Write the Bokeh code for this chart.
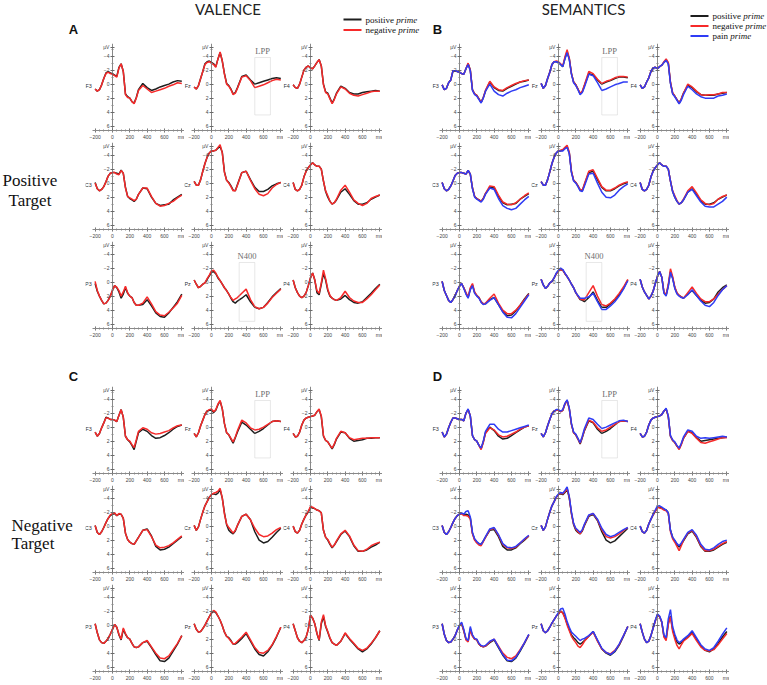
from bokeh.plotting import figure
from bokeh.models import Range1d, LinearAxis, FixedTicker, BoxAnnotation, Spacer
from bokeh.layouts import row, column
from bokeh.embed import file_html
from bokeh.resources import INLINE
from bokeh.core.properties import value

# ---------------- data (µV, negative up) ----------------
TIMES = [-200, -175, -150, -125, -100, -75, -50, -25, 0, 25, 50, 75, 100, 125, 150, 175, 200,
         225, 250, 275, 300, 350, 400, 450, 500, 550, 600, 650, 700, 750, 800]
X_TICKS = [-200, 0, 200, 400, 600, 800]
Y_TICKS = [-4, -2, 0, 2, 4, 6]
CHANNEL_ROWS = [["F3", "Fz", "F4"], ["C3", "Cz", "C4"], ["P3", "Pz", "P4"]]
VALENCE_LABELS = ["positive", "negative"]
SEMANTIC_LABELS = ["positive", "negative", "pain"]

# Panel A  (valence, positive target)
A_F3_pos = [0.7,1.0,0.8,0.1,-0.8,-1.6,-1.8,-1.6,-1.5,-1.3,-1.1,-2.4,-2.9,-1.8,1.4,1.8,2.0,2.5,2.7,1.9,0.8,-0.1,0.5,0.9,0.7,0.4,0.2,0.0,-0.3,-0.5,-0.4]
A_F3_neg = [0.7,1.0,0.8,0.1,-0.8,-1.5,-1.7,-1.5,-1.4,-1.2,-1.0,-2.3,-2.9,-1.8,1.5,1.9,2.0,2.5,2.8,2.0,0.9,0.2,0.7,1.2,1.0,0.8,0.6,0.3,0.1,-0.2,-0.1]
A_Fz_pos = [0.4,0.7,0.2,-0.8,-1.8,-2.9,-3.2,-3.3,-3.1,-2.9,-2.5,-3.6,-4.5,-3.3,-1.5,-0.1,0.2,0.7,1.4,1.2,0.5,-1.1,-1.3,-0.6,0.0,-0.2,-0.4,-0.6,-0.8,-0.9,-0.8]
A_Fz_neg = [0.4,0.7,0.2,-0.8,-1.8,-2.8,-3.1,-3.2,-3.0,-2.8,-2.4,-3.6,-4.6,-3.3,-1.4,0.0,0.3,0.8,1.5,1.3,0.6,-1.0,-1.2,-0.5,0.5,0.3,0.1,-0.2,-0.5,-0.7,-0.6]
A_F4_pos = [0.1,0.5,0.6,0.0,-1.0,-2.0,-2.4,-2.6,-2.3,-2.2,-2.6,-3.1,-3.5,-2.6,0.0,1.1,1.3,2.0,2.7,2.1,1.3,0.3,0.6,1.2,1.4,1.4,1.2,1.1,1.0,0.9,1.0]
A_F4_neg = [0.1,0.5,0.6,0.0,-1.0,-2.0,-2.4,-2.6,-2.3,-2.2,-2.6,-3.1,-3.5,-2.6,0.1,1.2,1.4,2.1,2.8,2.2,1.4,0.4,0.7,1.3,1.6,1.7,1.5,1.3,1.1,1.0,1.0]
A_C3_pos = [-0.1,0.8,1.1,0.9,0.5,-0.2,-1.0,-1.4,-1.5,-1.5,-1.4,-1.3,-1.85,-1.4,0.6,1.9,2.2,2.4,2.6,2.3,1.6,0.7,0.8,2.0,2.9,3.2,3.1,3.0,2.4,2.0,1.6]
A_C3_neg = [0.0,0.8,1.1,0.9,0.5,-0.2,-1.0,-1.4,-1.5,-1.5,-1.3,-1.2,-1.8,-1.4,0.7,1.9,2.1,2.3,2.5,2.3,1.6,0.7,0.7,1.9,2.9,3.3,3.2,2.9,2.6,2.1,1.7]
A_Cz_pos = [-0.25,0.3,0.3,-0.5,-1.7,-2.8,-3.7,-4.3,-4.6,-4.6,-4.7,-5.0,-5.2,-4.4,-1.6,-0.4,-0.1,0.4,1.0,1.1,0.2,-1.5,-1.7,-0.5,0.6,1.2,1.2,0.9,0.4,0.1,-0.1]
A_Cz_neg = [-0.25,0.3,0.3,-0.5,-1.7,-2.8,-3.7,-4.3,-4.6,-4.6,-4.7,-5.1,-5.5,-4.3,-1.5,-0.4,0.0,0.5,1.1,1.1,0.3,-1.5,-1.7,-0.4,0.8,1.6,1.8,1.5,0.7,0.2,-0.1]
A_C4_pos = [-0.1,0.9,1.1,0.9,0.3,-0.9,-1.7,-2.2,-2.6,-2.9,-2.6,-2.4,-2.4,-2.0,-0.3,1.2,2.0,2.6,3.0,2.8,2.4,1.3,0.8,1.6,2.5,3.0,3.0,2.8,2.3,2.0,1.7]
A_C4_neg = [-0.1,0.9,1.1,0.9,0.3,-0.9,-1.7,-2.2,-2.6,-2.9,-2.6,-2.4,-2.4,-2.0,-0.3,1.1,1.8,2.6,3.0,2.8,2.3,1.0,0.3,1.3,2.4,2.9,3.2,2.9,2.2,1.9,1.7]
A_P3_pos = [0.2,1.3,2.0,2.6,3.1,3.0,2.6,2.0,1.2,0.5,0.8,1.4,2.3,1.7,0.8,1.6,2.0,2.2,2.9,3.3,3.3,3.2,2.5,3.4,4.4,4.9,5.0,4.4,3.6,2.8,1.7]
A_P3_neg = [-0.1,1.2,2.0,2.6,3.1,3.0,2.6,2.0,1.2,0.5,0.7,1.2,2.0,1.4,0.6,1.5,2.0,2.2,2.9,3.3,3.3,3.0,2.1,3.1,4.2,4.7,4.8,4.3,3.7,3.0,1.9]
A_Pz_pos = [-0.3,0.3,0.8,0.6,0.3,0.1,-0.4,-0.9,-1.4,-1.5,-1.2,-0.6,-0.2,0.3,0.8,1.2,1.7,2.3,2.8,3.0,2.7,2.3,1.8,2.8,3.6,3.8,3.6,2.9,2.1,1.5,0.9]
A_Pz_neg = [-0.3,0.3,0.8,0.6,0.3,0.1,-0.5,-1.0,-1.6,-1.7,-1.3,-0.7,-0.2,0.3,0.8,1.2,1.7,2.2,2.6,2.4,2.2,1.6,1.0,2.5,3.5,3.8,3.6,3.0,2.2,1.6,1.0]
A_P4_pos = [-0.3,0.8,1.5,2.0,2.2,2.0,1.5,0.5,-0.6,-1.3,-0.3,1.5,1.8,0.3,-1.2,-0.3,1.2,2.0,2.3,2.5,2.6,2.4,1.9,2.5,2.9,3.0,2.8,2.2,1.6,0.9,0.3]
A_P4_neg = [-0.3,0.8,1.5,2.0,2.2,2.0,1.5,0.5,-0.6,-1.3,-0.3,1.2,1.6,0.1,-1.7,-0.5,1.0,1.9,2.3,2.5,2.6,2.2,1.3,2.2,2.7,2.9,2.9,2.4,1.8,1.1,0.4]

# Panel B  (semantics, positive target)
B_F3_pos = [0.1,0.8,0.6,-0.2,-0.6,-1.9,-1.9,-1.8,-1.7,-1.5,-1.4,-2.2,-2.9,-2.0,0.8,1.4,1.6,2.1,2.6,1.9,1.0,-0.3,0.5,0.9,1.0,0.6,0.3,0.0,-0.3,-0.4,-0.6]
B_F3_neg = [0.1,0.8,0.6,-0.2,-0.6,-1.9,-1.9,-1.8,-1.7,-1.5,-1.4,-2.2,-3.0,-2.0,0.8,1.4,1.6,2.1,2.6,1.9,0.9,-0.4,0.4,0.8,0.9,0.5,0.2,-0.1,-0.3,-0.5,-0.6]
B_F3_pain = [0.1,0.8,0.6,-0.2,-0.6,-1.9,-1.9,-1.8,-1.7,-1.5,-1.4,-2.2,-2.8,-1.9,0.9,1.5,1.7,2.2,2.7,2.0,1.0,0.0,1.0,1.5,1.7,1.3,1.0,0.8,0.5,0.3,0.1]
B_Fz_pos = [-0.1,0.6,0.2,-0.8,-1.7,-2.8,-3.2,-3.2,-3.1,-2.8,-2.5,-3.7,-4.6,-3.6,-1.5,-0.3,0.1,0.7,1.4,1.1,0.2,-1.5,-1.3,-0.6,0.0,-0.3,-0.5,-0.8,-1.0,-1.0,-0.9]
B_Fz_neg = [-0.1,0.6,0.2,-0.8,-1.7,-2.8,-3.2,-3.3,-3.2,-2.9,-2.6,-3.9,-4.9,-3.7,-1.5,-0.3,0.1,0.7,1.3,1.0,0.1,-1.8,-1.5,-0.7,-0.1,-0.4,-0.6,-0.9,-1.1,-1.1,-1.0]
B_Fz_pain = [-0.1,0.6,0.2,-0.8,-1.7,-2.8,-3.2,-3.2,-3.1,-2.8,-2.5,-3.6,-4.5,-3.5,-1.4,-0.2,0.2,0.8,1.5,1.2,0.4,-1.4,-1.2,-0.2,0.9,0.7,0.4,0.1,-0.1,-0.3,-0.3]
B_F4_pos = [0.1,0.6,0.4,-0.3,-0.9,-1.8,-2.3,-2.4,-2.2,-2.5,-2.7,-3.1,-3.4,-3.0,-0.2,1.3,1.7,2.2,2.7,2.1,1.3,0.2,0.5,1.1,1.5,1.6,1.6,1.6,1.4,1.3,1.2]
B_F4_neg = [0.1,0.6,0.4,-0.3,-0.9,-1.8,-2.3,-2.4,-2.2,-2.5,-2.7,-3.2,-3.6,-3.1,-0.3,1.2,1.7,2.2,2.7,2.1,1.3,0.0,0.4,1.0,1.5,1.6,1.5,1.5,1.4,1.2,1.2]
B_F4_pain = [0.1,0.6,0.4,-0.3,-0.9,-1.8,-2.3,-2.4,-2.2,-2.5,-2.7,-3.1,-3.4,-2.9,-0.1,1.4,1.8,2.3,2.8,2.3,1.5,0.3,0.8,1.4,1.8,2.0,2.0,2.0,1.7,1.6,1.4]
B_C3_pos = [-0.1,0.8,1.1,0.9,0.4,-0.3,-1.1,-1.4,-1.5,-1.5,-1.4,-1.3,-1.8,-1.3,0.7,1.9,2.2,2.4,2.6,2.2,1.5,0.6,0.7,1.9,2.8,3.1,3.0,2.9,2.3,1.9,1.5]
B_C3_neg = [-0.1,0.8,1.1,0.9,0.4,-0.3,-1.1,-1.4,-1.5,-1.5,-1.4,-1.3,-1.8,-1.3,0.7,1.9,2.2,2.4,2.6,2.2,1.5,0.4,0.5,1.7,2.7,3.0,3.1,2.8,2.3,1.8,1.4]
B_C3_pain = [-0.1,0.8,1.1,0.9,0.4,-0.3,-1.1,-1.4,-1.5,-1.5,-1.4,-1.3,-1.8,-1.3,0.8,2.0,2.3,2.5,2.7,2.3,1.6,0.7,0.9,2.2,3.2,3.6,3.8,3.6,3.0,2.4,1.9]
B_Cz_pos = [-0.2,0.3,0.3,-0.5,-1.6,-2.8,-3.7,-4.3,-4.6,-4.6,-4.7,-5.0,-5.2,-4.3,-1.6,-0.4,-0.1,0.4,1.0,1.1,0.2,-1.5,-1.7,-0.5,0.6,1.1,1.1,0.8,0.4,0.1,-0.1]
B_Cz_neg = [-0.2,0.3,0.3,-0.5,-1.6,-2.8,-3.7,-4.3,-4.6,-4.7,-4.8,-5.1,-5.4,-4.4,-1.7,-0.4,-0.1,0.4,0.9,1.0,0.1,-1.7,-1.9,-0.7,0.5,1.0,1.0,0.7,0.3,0.0,-0.2]
B_Cz_pain = [-0.2,0.3,0.3,-0.5,-1.6,-2.8,-3.7,-4.3,-4.6,-4.6,-4.6,-4.9,-5.1,-4.2,-1.5,-0.3,0.0,0.5,1.1,1.2,0.4,-1.3,-1.4,0.0,1.3,2.0,2.1,1.7,1.0,0.5,0.1]
B_C4_pos = [-0.1,0.9,1.1,0.9,0.3,-0.9,-1.7,-2.2,-2.6,-2.9,-2.6,-2.4,-2.4,-2.0,-0.3,1.2,2.0,2.6,3.0,2.8,2.4,1.3,0.8,1.6,2.5,3.0,3.0,2.8,2.3,2.0,1.7]
B_C4_neg = [-0.1,0.9,1.1,0.9,0.3,-0.9,-1.7,-2.2,-2.6,-2.9,-2.6,-2.4,-2.4,-2.0,-0.3,1.1,1.8,2.5,3.0,2.8,2.3,1.1,0.5,1.4,2.4,2.9,3.1,2.9,2.3,1.9,1.7]
B_C4_pain = [-0.1,0.9,1.1,0.9,0.3,-0.9,-1.7,-2.2,-2.6,-2.9,-2.6,-2.4,-2.4,-2.0,-0.3,1.2,2.0,2.6,3.0,2.8,2.4,1.3,0.9,1.8,2.7,3.3,3.4,3.4,3.0,2.6,2.0]
B_P3_pos = [-0.1,1.2,1.9,2.6,2.9,2.5,1.9,1.2,0.6,0.2,0.8,1.6,2.2,1.0,0.4,1.5,1.9,2.2,2.8,3.1,3.1,2.5,2.2,3.2,4.2,4.8,4.7,4.1,3.3,2.4,1.6]
B_P3_neg = [-0.1,1.2,1.9,2.6,2.9,2.5,1.9,1.2,0.6,0.2,0.8,1.5,2.1,0.8,0.2,1.4,1.9,2.2,2.8,3.1,3.0,2.3,1.7,3.0,4.0,4.5,4.5,4.0,3.3,2.5,1.7]
B_P3_pain = [-0.1,1.2,1.9,2.6,2.9,2.5,1.9,1.2,0.6,0.2,0.9,1.7,2.3,1.1,0.5,1.6,2.0,2.3,2.9,3.2,3.1,2.6,2.2,3.2,4.3,5.0,5.1,4.5,3.6,2.7,1.8]
B_Pz_pos = [-0.4,0.4,0.9,0.6,0.1,-0.1,-0.6,-1.2,-1.6,-1.8,-1.7,-1.2,-0.8,-0.3,0.3,0.8,1.5,2.0,2.5,2.6,2.8,2.2,1.4,2.6,3.6,3.6,3.1,2.5,1.8,0.9,-0.3]
B_Pz_neg = [-0.4,0.4,0.9,0.6,0.1,-0.1,-0.6,-1.2,-1.6,-1.8,-1.7,-1.2,-0.8,-0.3,0.3,0.8,1.5,2.0,2.4,2.5,2.5,1.5,0.5,2.0,3.2,3.4,3.0,2.4,1.6,0.7,-0.4]
B_Pz_pain = [-0.4,0.4,0.9,0.6,0.1,-0.1,-0.6,-1.3,-1.7,-2.0,-1.8,-1.3,-0.8,-0.3,0.3,0.8,1.5,1.9,2.3,2.3,2.3,2.1,1.6,2.8,3.9,3.9,3.4,2.8,2.0,1.0,-0.2]
B_P4_pos = [-0.4,0.7,1.4,1.9,2.4,2.0,1.3,0.2,-0.8,-1.5,-0.7,1.5,1.9,0.5,-1.5,-0.6,0.8,1.6,1.9,2.1,2.3,1.7,1.2,1.9,2.6,3.0,2.9,2.4,1.4,0.8,0.4]
B_P4_neg = [-0.4,0.7,1.4,1.9,2.4,2.0,1.3,0.2,-0.8,-1.5,-0.7,1.4,1.8,0.3,-1.9,-0.8,0.7,1.5,1.9,2.1,2.3,1.5,0.7,1.6,2.4,2.8,2.8,2.4,1.7,1.1,0.5]
B_P4_pain = [-0.4,0.7,1.4,1.9,2.4,2.0,1.3,0.2,-0.8,-1.5,-0.7,1.6,2.0,0.6,-1.4,-0.5,0.9,1.7,2.0,2.2,2.3,1.8,1.1,1.9,2.7,3.3,3.5,2.9,1.9,1.1,0.5]

# Panel C  (valence, negative target)
C_F3_pos = [0.7,1.3,0.9,0.1,-0.6,-1.4,-1.3,-1.1,-1.1,-1.0,-0.8,-1.7,-2.5,-1.4,1.3,1.8,2.1,2.6,3.2,2.0,0.8,0.3,0.6,1.2,1.6,1.5,1.2,0.8,0.3,-0.1,-0.3]
C_F3_neg = [0.7,1.3,0.9,0.1,-0.6,-1.3,-1.3,-1.1,-1.1,-1.0,-0.8,-1.7,-2.5,-1.4,1.3,1.8,2.0,2.5,2.9,1.8,0.6,0.1,0.3,0.8,1.0,0.9,0.7,0.5,0.1,-0.2,-0.3]
C_Fz_pos = [0.9,1.4,0.8,-0.2,-1.0,-1.8,-2.3,-2.4,-2.4,-2.1,-2.4,-3.2,-3.7,-2.6,-0.5,0.8,1.1,1.7,2.3,1.5,0.7,-0.7,-0.3,0.3,0.9,0.6,0.2,-0.3,-0.8,-0.9,-0.8]
C_Fz_neg = [0.9,1.4,0.8,-0.2,-1.0,-1.8,-2.3,-2.5,-2.6,-2.2,-2.5,-3.3,-3.8,-2.6,-0.5,0.8,1.1,1.6,2.1,1.4,0.5,-1.0,-0.6,0.1,0.4,0.3,0.0,-0.4,-0.8,-0.9,-0.8]
C_F4_pos = [0.9,1.4,1.3,0.7,-0.3,-1.0,-1.3,-1.4,-1.5,-1.6,-1.7,-2.2,-2.5,-1.5,1.3,1.9,2.1,2.6,3.1,2.5,1.7,0.7,0.8,1.6,2.0,1.9,1.8,1.6,1.6,1.5,1.5]
C_F4_neg = [0.9,1.4,1.3,0.7,-0.3,-1.0,-1.3,-1.4,-1.5,-1.6,-1.7,-2.2,-2.6,-1.6,1.2,1.9,2.1,2.6,3.0,2.4,1.6,0.6,0.8,1.5,1.8,1.7,1.6,1.6,1.5,1.5,1.5]
C_C3_pos = [-0.1,0.9,1.2,0.8,0.2,-0.5,-1.1,-1.5,-1.7,-1.8,-1.5,-1.7,-1.7,-1.1,1.0,1.9,2.3,2.5,2.6,2.1,1.6,0.6,0.4,1.4,2.9,3.4,3.3,3.0,2.5,2.0,1.5]
C_C3_neg = [-0.1,0.9,1.2,0.8,0.2,-0.5,-1.1,-1.6,-1.8,-1.9,-1.5,-1.8,-1.7,-1.1,1.0,1.9,2.3,2.5,2.6,2.1,1.6,0.6,0.5,1.5,2.7,3.1,3.0,2.8,2.4,1.9,1.4]
C_Cz_pos = [-0.1,0.6,0.1,-1.0,-2.0,-2.9,-3.5,-4.1,-4.5,-4.6,-4.5,-4.7,-5.2,-4.0,-1.9,-0.2,0.6,0.9,1.1,0.7,-0.1,-1.4,-1.7,-0.9,0.8,2.0,2.4,2.2,1.6,0.9,0.3]
C_Cz_neg = [-0.1,0.6,0.1,-1.0,-2.0,-2.9,-3.5,-4.1,-4.5,-4.7,-4.8,-5.0,-5.4,-4.0,-1.7,-0.3,0.2,0.6,1.0,0.6,-0.1,-1.4,-1.7,-0.9,0.3,1.2,1.5,1.4,1.0,0.5,0.2]
C_C4_pos = [0.0,0.8,1.0,0.6,-0.3,-1.0,-1.6,-2.0,-2.7,-2.6,-2.5,-2.3,-2.2,-1.9,0.6,1.6,2.0,2.6,3.1,2.7,2.2,1.2,0.7,1.5,2.8,3.6,3.6,3.4,3.0,2.7,2.3]
C_C4_neg = [0.0,0.8,1.0,0.6,-0.3,-1.0,-1.6,-2.1,-2.8,-2.7,-2.5,-2.3,-2.2,-1.9,0.6,1.6,1.9,2.5,3.0,2.7,2.1,1.1,0.6,1.4,2.7,3.5,3.6,3.3,2.8,2.5,2.3]
C_P3_pos = [-0.2,1.1,2.1,2.5,2.6,2.3,1.9,1.3,0.6,-0.1,0.3,1.4,2.1,0.6,1.3,1.8,2.0,2.6,3.1,3.2,3.1,2.5,2.3,3.2,4.2,5.1,5.2,4.7,3.7,2.7,1.5]
C_P3_neg = [-0.2,1.1,2.1,2.5,2.6,2.3,1.9,1.3,0.6,-0.1,0.3,1.3,2.0,0.4,1.2,1.8,2.0,2.6,3.1,3.2,3.1,2.5,2.2,3.1,4.0,4.7,4.8,4.4,3.5,2.6,1.5]
C_Pz_pos = [-0.2,0.6,1.0,0.9,0.5,0.0,-0.6,-1.2,-1.7,-2.0,-1.8,-1.3,-0.7,0.1,1.0,1.6,1.8,2.2,2.7,2.7,2.5,1.9,1.2,2.3,3.4,4.2,4.4,3.8,2.9,1.7,0.3]
C_Pz_neg = [-0.2,0.6,1.0,0.9,0.5,0.0,-0.6,-1.2,-1.8,-2.1,-1.9,-1.3,-0.7,0.1,1.0,1.6,1.9,2.3,2.7,2.6,2.3,1.7,1.0,2.1,3.2,3.9,4.0,3.6,2.8,1.6,0.3]
C_P4_pos = [-0.2,0.8,1.8,2.3,2.5,2.2,1.7,0.6,-1.4,-1.0,-0.2,1.2,2.2,-0.2,-1.2,0.2,1.0,1.9,2.5,2.7,2.9,2.3,1.2,2.0,2.7,3.4,3.8,3.4,2.7,1.8,0.8]
C_P4_neg = [-0.2,0.8,1.8,2.3,2.5,2.2,1.7,0.6,-1.4,-1.0,-0.2,1.2,2.1,-0.4,-1.5,0.1,0.9,1.8,2.5,2.7,2.9,2.3,1.1,1.9,2.6,3.3,3.6,3.3,2.6,1.8,0.8]

# Panel D  (semantics, negative target)
D_F3_pos = [0.7,1.4,1.0,0.1,-0.7,-1.3,-1.3,-1.2,-1.1,-1.1,-0.9,-2.0,-2.5,-1.6,1.2,1.8,2.0,2.6,3.1,2.1,0.8,0.0,0.5,1.3,1.7,1.6,1.2,0.8,0.4,0.0,-0.2]
D_F3_neg = [0.7,1.4,1.0,0.1,-0.7,-1.3,-1.3,-1.2,-1.1,-1.1,-0.9,-2.0,-2.5,-1.6,1.2,1.8,2.0,2.6,3.2,2.2,0.9,0.1,0.4,1.1,1.4,1.3,1.0,0.7,0.3,0.0,-0.2]
D_F3_pain = [0.7,1.4,1.0,0.1,-0.7,-1.3,-1.3,-1.2,-1.1,-1.1,-0.9,-2.0,-2.6,-1.6,1.2,1.8,2.0,2.6,3.0,2.0,0.6,-0.4,-0.4,0.3,0.7,0.7,0.5,0.3,0.1,-0.1,-0.3]
D_Fz_pos = [0.9,1.4,0.8,-0.2,-1.1,-1.9,-2.3,-2.4,-2.4,-2.2,-2.4,-3.3,-3.8,-2.6,-0.4,0.8,1.1,1.7,2.4,1.5,0.5,-0.9,-0.6,0.3,0.9,0.6,0.2,-0.3,-0.8,-0.9,-0.8]
D_Fz_neg = [0.9,1.4,0.8,-0.2,-1.1,-1.9,-2.3,-2.4,-2.4,-2.2,-2.4,-3.3,-3.8,-2.6,-0.4,0.8,1.1,1.7,2.3,1.4,0.4,-1.0,-0.7,0.1,0.6,0.4,0.0,-0.4,-0.8,-0.9,-0.8]
D_Fz_pain = [0.9,1.4,0.8,-0.2,-1.1,-1.9,-2.3,-2.5,-2.5,-2.3,-2.5,-3.4,-3.9,-2.7,-0.5,0.7,1.0,1.6,2.2,1.3,0.2,-1.3,-1.1,-0.4,0.2,0.0,-0.3,-0.6,-0.9,-1.0,-0.8]
D_F4_pos = [0.9,1.4,1.3,0.7,-0.3,-1.0,-1.3,-1.4,-1.5,-1.6,-1.8,-2.3,-2.6,-1.5,1.3,1.9,2.2,2.7,3.1,2.4,1.6,0.6,0.8,1.5,2.0,1.9,1.8,1.7,1.6,1.5,1.4]
D_F4_neg = [0.9,1.4,1.3,0.7,-0.3,-1.0,-1.3,-1.4,-1.5,-1.6,-1.8,-2.3,-2.6,-1.5,1.3,1.9,2.2,2.7,3.2,2.5,1.6,0.6,0.9,1.6,2.2,2.3,2.1,1.9,1.7,1.5,1.5]
D_F4_pain = [0.9,1.4,1.3,0.7,-0.3,-1.0,-1.3,-1.4,-1.5,-1.6,-1.8,-2.3,-2.7,-1.6,1.2,1.8,2.1,2.6,3.0,2.3,1.4,0.4,0.6,1.3,1.6,1.5,1.6,1.5,1.4,1.3,1.4]
D_C3_pos = [-0.1,0.9,1.2,0.8,0.2,-0.5,-1.1,-1.5,-1.7,-1.8,-1.6,-1.7,-1.6,-1.2,1.0,1.9,2.3,2.5,2.6,2.1,1.6,0.6,0.5,1.5,2.9,3.4,3.4,3.1,2.5,2.0,1.4]
D_C3_neg = [-0.1,0.9,1.2,0.8,0.2,-0.5,-1.1,-1.5,-1.7,-1.8,-1.5,-1.5,-1.4,-1.0,1.1,2.0,2.4,2.7,2.8,2.2,1.6,0.5,0.3,1.3,2.6,3.1,3.2,3.0,2.4,1.9,1.4]
D_C3_pain = [-0.1,0.9,1.2,0.8,0.2,-0.5,-1.1,-1.5,-1.7,-1.9,-1.7,-2.1,-2.2,-1.3,0.9,1.8,2.2,2.5,2.6,2.1,1.5,0.4,0.2,1.2,2.5,3.0,3.1,2.9,2.4,1.8,1.3]
D_Cz_pos = [-0.1,0.6,0.1,-1.0,-2.0,-2.9,-3.5,-4.1,-4.5,-4.6,-4.5,-4.8,-5.3,-4.0,-1.8,-0.2,0.6,0.9,1.1,0.7,-0.1,-1.4,-1.7,-0.8,0.8,2.0,2.4,2.1,1.5,0.9,0.3]
D_Cz_neg = [-0.1,0.6,0.1,-1.0,-2.0,-2.9,-3.5,-4.1,-4.5,-4.7,-4.6,-4.9,-5.4,-4.1,-1.8,-0.3,0.4,0.8,1.1,0.6,-0.2,-1.5,-1.8,-0.9,0.5,1.5,1.7,1.5,1.1,0.6,0.2]
D_Cz_pain = [-0.1,0.6,0.1,-1.0,-2.0,-2.9,-3.5,-4.2,-4.6,-4.8,-4.7,-5.1,-5.6,-4.2,-2.0,-0.4,0.3,0.6,0.9,0.5,-0.3,-1.6,-1.8,-1.0,0.3,1.2,1.5,1.3,0.9,0.5,0.2]
D_C4_pos = [0.0,0.8,1.0,0.6,-0.3,-1.0,-1.6,-2.1,-2.7,-2.7,-2.6,-2.4,-2.3,-1.9,0.6,1.6,2.1,2.6,3.0,2.6,2.1,1.1,0.7,1.6,2.9,3.6,3.6,3.4,3.0,2.6,2.3]
D_C4_neg = [0.0,0.8,1.0,0.6,-0.3,-1.0,-1.6,-2.1,-2.7,-2.6,-2.5,-2.3,-2.2,-1.8,0.8,1.8,2.3,2.9,3.5,2.8,2.0,1.0,0.6,1.5,2.8,3.5,3.5,3.3,2.9,2.5,2.2]
D_C4_pain = [0.0,0.8,1.0,0.6,-0.3,-1.0,-1.7,-2.3,-2.9,-2.9,-2.7,-2.5,-2.3,-1.9,0.6,1.6,2.0,2.5,2.8,2.4,1.9,0.9,0.5,1.3,2.6,3.3,3.4,3.1,2.6,2.2,2.0]
D_P3_pos = [-0.2,1.3,2.2,2.5,2.4,2.0,1.5,0.7,0.1,-0.2,0.8,2.0,2.3,0.5,1.5,2.0,2.1,2.7,3.0,3.1,3.0,2.5,2.1,3.2,4.3,5.1,5.2,4.7,3.7,2.6,1.4]
D_P3_neg = [-0.2,1.3,2.2,2.5,2.4,2.0,1.5,0.7,0.1,-0.2,0.8,2.1,2.4,0.7,1.6,2.0,2.1,2.7,3.0,3.1,3.0,2.4,2.0,3.0,4.0,4.6,4.8,4.4,3.5,2.5,1.4]
D_P3_pain = [-0.2,1.3,2.2,2.5,2.4,2.0,1.5,0.7,0.0,-0.4,0.6,1.9,2.2,0.2,1.4,1.9,2.0,2.6,2.9,3.0,2.9,2.3,2.0,3.1,4.2,5.0,5.1,4.6,3.6,2.5,1.3]
D_Pz_pos = [-0.2,0.8,1.1,0.8,0.3,-0.3,-0.8,-1.3,-1.6,-2.0,-1.8,-1.1,-0.2,0.6,1.4,1.8,2.1,2.5,2.7,2.5,2.2,1.6,0.9,2.2,3.4,4.0,4.3,3.8,2.9,1.6,0.2]
D_Pz_neg = [-0.2,0.8,1.1,0.8,0.3,-0.3,-0.8,-1.3,-1.6,-2.0,-1.7,-1.0,0.0,0.8,1.6,2.1,2.5,3.0,3.2,2.8,2.3,1.6,1.0,2.3,3.4,3.9,4.1,3.6,2.8,1.5,0.2]
D_Pz_pain = [-0.2,0.8,1.1,0.8,0.3,-0.3,-0.8,-1.3,-1.8,-2.3,-2.4,-1.6,-0.5,0.3,1.0,1.3,1.6,1.9,2.2,2.0,1.9,1.5,0.9,2.1,3.3,3.9,4.2,3.7,2.7,1.5,0.2]
D_P4_pos = [-0.2,1.0,2.0,2.5,2.3,1.5,0.4,-0.6,-1.5,-1.2,-0.4,1.6,2.0,-0.3,-1.3,0.6,1.6,2.4,2.7,2.5,2.2,1.7,1.0,2.0,3.0,3.6,3.8,3.4,2.6,1.7,0.9]
D_P4_neg = [-0.2,1.0,2.0,2.5,2.3,1.5,0.4,-0.6,-1.5,-1.2,-0.4,1.7,2.2,-0.1,-1.2,0.9,2.0,2.9,3.4,2.8,2.3,1.8,1.2,2.2,3.1,3.6,3.7,3.5,2.8,2.0,1.2]
D_P4_pain = [-0.2,1.0,2.0,2.5,2.3,1.5,0.4,-0.7,-1.6,-1.3,-0.5,1.4,1.8,-0.9,-2.2,0.2,1.3,2.1,2.5,2.3,2.0,1.5,0.8,1.8,2.8,3.4,3.6,3.2,2.3,1.3,0.4]

PANEL_A = {"F3": [A_F3_pos, A_F3_neg], "Fz": [A_Fz_pos, A_Fz_neg], "F4": [A_F4_pos, A_F4_neg],
           "C3": [A_C3_pos, A_C3_neg], "Cz": [A_Cz_pos, A_Cz_neg], "C4": [A_C4_pos, A_C4_neg],
           "P3": [A_P3_pos, A_P3_neg], "Pz": [A_Pz_pos, A_Pz_neg], "P4": [A_P4_pos, A_P4_neg]}
PANEL_B = {"F3": [B_F3_pos, B_F3_neg, B_F3_pain], "Fz": [B_Fz_pos, B_Fz_neg, B_Fz_pain],
           "F4": [B_F4_pos, B_F4_neg, B_F4_pain], "C3": [B_C3_pos, B_C3_neg, B_C3_pain],
           "Cz": [B_Cz_pos, B_Cz_neg, B_Cz_pain], "C4": [B_C4_pos, B_C4_neg, B_C4_pain],
           "P3": [B_P3_pos, B_P3_neg, B_P3_pain], "Pz": [B_Pz_pos, B_Pz_neg, B_Pz_pain],
           "P4": [B_P4_pos, B_P4_neg, B_P4_pain]}
PANEL_C = {"F3": [C_F3_pos, C_F3_neg], "Fz": [C_Fz_pos, C_Fz_neg], "F4": [C_F4_pos, C_F4_neg],
           "C3": [C_C3_pos, C_C3_neg], "Cz": [C_Cz_pos, C_Cz_neg], "C4": [C_C4_pos, C_C4_neg],
           "P3": [C_P3_pos, C_P3_neg], "Pz": [C_Pz_pos, C_Pz_neg], "P4": [C_P4_pos, C_P4_neg]}
PANEL_D = {"F3": [D_F3_pos, D_F3_neg, D_F3_pain], "Fz": [D_Fz_pos, D_Fz_neg, D_Fz_pain],
           "F4": [D_F4_pos, D_F4_neg, D_F4_pain], "C3": [D_C3_pos, D_C3_neg, D_C3_pain],
           "Cz": [D_Cz_pos, D_Cz_neg, D_Cz_pain], "C4": [D_C4_pos, D_C4_neg, D_C4_pain],
           "P3": [D_P3_pos, D_P3_neg, D_P3_pain], "Pz": [D_Pz_pos, D_Pz_neg, D_Pz_pain],
           "P4": [D_P4_pos, D_P4_neg, D_P4_pain]}

# analysis windows (label, start ms, end ms)
LPP_WINDOW = ("LPP", 500, 680)
N400_WINDOW = ("N400", 320, 500)

# ---------------- styling ----------------
BLACK, RED, BLUE = "#1e1e1e", "#f62a2a", "#2f3cf5"
AXIS_COL = "#6a6a6a"
SUB_W, SUB_H = 99, 99
X0, X1 = -311, 831
Y_TOP, Y_BOT = -5.8, 6.62
MU_TICK = -5.3
SERIF = "Liberation Serif"
SANS = "Liberation Sans"


def style_axis(ax):
    ax.axis_line_color = AXIS_COL
    ax.axis_line_width = 0.8
    ax.major_tick_line_color = AXIS_COL
    ax.minor_tick_line_color = "#8a8a8a"
    ax.major_tick_in = 2
    ax.major_tick_out = 2
    ax.minor_tick_in = 1
    ax.minor_tick_out = 1
    ax.major_label_text_font_size = "5px"
    ax.major_label_text_font = SANS
    ax.major_label_text_color = "#444444"
    ax.major_label_standoff = 1


def subplot(ch, series, colors, window=None):
    p = figure(width=SUB_W, height=SUB_H, x_range=Range1d(X0, X1), y_range=Range1d(Y_BOT, Y_TOP),
               x_axis_type=None, y_axis_type=None, output_backend="svg", toolbar_location=None,
               min_border_left=0, min_border_right=0, min_border_top=0, min_border_bottom=9,
               title=None)
    p.outline_line_color = None
    p.background_fill_color = "white"
    p.border_fill_color = "white"

    xa = LinearAxis(ticker=FixedTicker(ticks=X_TICKS, minor_ticks=list(range(-200, 801, 50))),
                    bounds=(-225, 830), major_label_overrides={X_TICKS[-1]: "ms"})
    style_axis(xa)
    p.add_layout(xa, "below")

    ya = LinearAxis(fixed_location=0,
                    ticker=FixedTicker(ticks=[MU_TICK] + Y_TICKS, minor_ticks=[-5, -3, -1, 1, 3, 5]),
                    bounds=(Y_TOP, Y_BOT), major_label_overrides={MU_TICK: "µV"})
    style_axis(ya)
    p.add_layout(ya, "left")

    p.text(x=[-238], y=[0.3], text=[ch], text_align="right", text_baseline="middle",
           text_font_size="5.5px", text_font=value(SANS), text_color="#333333")

    if window is not None:
        label, t0, t1 = window
        top = -3.8 if label == "LPP" else -2.8
        bot = 4.4 if label == "LPP" else 5.6
        p.add_layout(BoxAnnotation(left=t0, right=t1, top=top, bottom=bot, fill_alpha=0,
                                   line_color="#b4b4b4", line_width=1))
        p.text(x=[(t0 + t1) / 2], y=[top - 0.15], text=[label], text_align="center",
               text_baseline="bottom", text_font_size="8.5px", text_font=value(SERIF),
               text_color="#6e6e6e")

    for vals, c in zip(series, colors):
        p.line(TIMES, vals, line_color=c, line_width=1.5)
    return p


def panel_grid(data, colors, windows):
    rows = []
    for chans in CHANNEL_ROWS:
        rows.append(row(*[subplot(ch, data[ch], colors, windows.get(ch)) for ch in chans]))
    return column(*rows)


def canvas(w, h):
    p = figure(width=w, height=h, x_range=Range1d(0, w), y_range=Range1d(h, 0),
               x_axis_type=None, y_axis_type=None, output_backend="svg", toolbar_location=None,
               min_border=0, title=None)
    p.outline_line_color = None
    return p


def legend(p, x, ys, names, colors):
    for y, name, c in zip(ys, names, colors):
        p.line([x, x + 18], [y, y], line_color=c, line_width=2)
        word = name + " "
        p.text(x=[x + 22], y=[y], text=[word], text_baseline="middle", text_font_size="9px",
               text_font=value(SERIF), text_color="#111111")
        w = sum({"p": .5, "o": .5, "s": .389, "i": .278, "t": .278, "v": .5, "e": .444,
                 "n": .5, "g": .5, "a": .444, " ": .25}[ch] for ch in word) * 9
        p.text(x=[x + 22 + w], y=[y], text=["prime"], text_baseline="middle", text_font_size="9px",
               text_font=value(SERIF), text_font_style="italic", text_color="#111111")


TOTAL_W = 767
HEAD_H = 43
MID_H = 46
STRIP_W = 85
GAP_W = 50
GRID_H = 3 * SUB_H

# header
head = canvas(TOTAL_W, HEAD_H)
head.text(x=[227.5, 583], y=[8, 8], text=["VALENCE", "SEMANTICS"], text_align="center",
          text_baseline="middle", text_font_size="15px", text_font=value("Lato"), text_color="#222222")
head.text(x=[73, 437], y=[29, 29], text=["A", "B"], text_align="center", text_baseline="middle",
          text_font_size="13px", text_font=value(SANS), text_font_style="bold", text_color="#111111")
legend(head, 343, [19, 29.5], VALENCE_LABELS, [BLACK, RED])
legend(head, 690, [15.5, 25.5, 35.5], SEMANTIC_LABELS, [BLACK, RED, BLUE])

# left strips
strip1 = canvas(STRIP_W, GRID_H)
strip1.text(x=[2, 8], y=[137, 157], text=["Positive", "Target"], text_baseline="middle",
            text_font_size="17px", text_font=value(SERIF), text_color="#111111")
strip2 = canvas(STRIP_W, GRID_H)
strip2.text(x=[11, 11], y=[139, 157], text=["Negative", "Target"], text_baseline="middle",
            text_font_size="17px", text_font=value(SERIF), text_color="#111111")

mid = canvas(TOTAL_W, MID_H)
mid.text(x=[73, 437], y=[36, 36], text=["C", "D"], text_align="center", text_baseline="middle",
         text_font_size="13px", text_font=value(SANS), text_font_style="bold", text_color="#111111")

grid_a = panel_grid(PANEL_A, [BLACK, RED], {"Fz": LPP_WINDOW, "Pz": N400_WINDOW})
grid_b = panel_grid(PANEL_B, [BLACK, RED, BLUE], {"Fz": LPP_WINDOW, "Pz": N400_WINDOW})
grid_c = panel_grid(PANEL_C, [BLACK, RED], {"Fz": LPP_WINDOW})
grid_d = panel_grid(PANEL_D, [BLACK, RED, BLUE], {"Fz": LPP_WINDOW})

layout = column(
    head,
    row(strip1, grid_a, Spacer(width=GAP_W, height=GRID_H), grid_b),
    mid,
    row(strip2, grid_c, Spacer(width=GAP_W, height=GRID_H), grid_d),
)

open("out.html", "w").write(file_html(layout, INLINE, title="ERP waveforms"))
